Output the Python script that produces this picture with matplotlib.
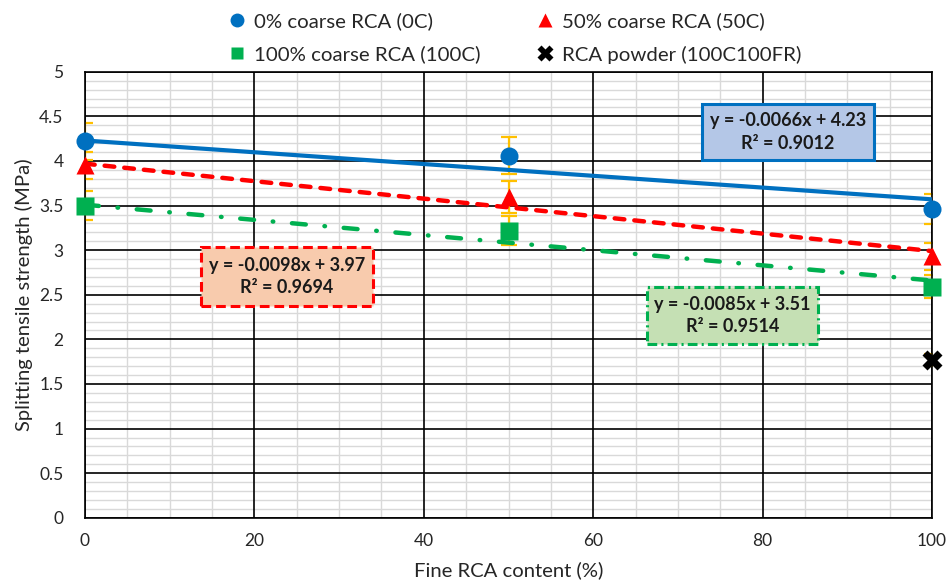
import numpy as np
import matplotlib
matplotlib.use("Agg")
import matplotlib.pyplot as plt
from matplotlib.lines import Line2D
from matplotlib.patches import Rectangle

plt.rcParams['font.family'] = ['Lato', 'DejaVu Sans']
plt.rcParams['lines.scale_dashes'] = False

# Fine RCA replacement levels (%)
fine_rca = [0, 50, 100]

# Splitting tensile strength (MPa) and error bar half-widths
strength_0c = [4.22, 4.06, 3.46]
err_0c = [0.21, 0.205, 0.17]
strength_50c = [3.95, 3.60, 2.93]
err_50c = [0.15, 0.18, 0.15]
strength_100c = [3.50, 3.22, 2.59]
err_100c = [0.16, 0.16, 0.13]
powder_x = [100]
powder_y = [1.77]
err_powder = [0.07]

# Linear trendlines
trend_slope = [-0.0066, -0.0098, -0.0085]
trend_intercept = [4.23, 3.97, 3.51]
trend_r2 = [0.9012, 0.9694, 0.9514]

series_labels = ["0% coarse RCA (0C)", "50% coarse RCA (50C)",
                 "100% coarse RCA (100C)", "RCA powder (100C100FR)"]

BLUE = "#0070C0"
RED = "#FF0000"
GREEN = "#00B050"
ERR = "#FFC000"
TXT = "#262626"

W, H = 949, 585
fig = plt.figure(figsize=(W/100, H/100), dpi=100)
renderer = fig.canvas.get_renderer()


def fit_size(text, width_px, weight='normal'):
    # font size (pt) at which `text` spans width_px pixels
    t = fig.text(0, 0, text, fontsize=10, fontweight=weight)
    w = t.get_window_extent(renderer).width
    t.remove()
    return 10 * width_px / w


fs_legend = fit_size(series_labels[0], 178)
fs_label = fit_size("Fine RCA content (%)", 190)
fs_box = fit_size("y = -0.0066x + 4.23", 157, 'bold')
fs_tick = 12.5

ax = fig.add_axes([85/W, 1-517.8/H, 847/W, (517.8-71.8)/H])

ax.set_xlim(0, 100)
ax.set_ylim(0, 5)
xmajor = np.arange(0, 101, 20)
ymajor = np.arange(0, 5.01, 0.5)
ax.set_xticks(xmajor)
ax.set_yticks(ymajor)
ax.set_yticklabels([f"{v:g}" for v in ymajor])
ax.set_xticks(np.arange(0, 101, 5), minor=True)
ax.set_yticks(np.arange(0, 5.01, 0.1), minor=True)
ax.grid(which='minor', color='#D9D9D9', linewidth=1.0)
ax.grid(which='major', visible=False)
ax.set_axisbelow(True)
# major gridlines on top of the minor ones
for xv in xmajor:
    ax.axvline(xv, color='black', lw=1.2, zorder=1)
for yv in ymajor:
    ax.axhline(yv, color='black', lw=1.2, zorder=1)

ax.tick_params(which='both', length=0)
ax.tick_params(axis='y', pad=15.5, labelsize=fs_tick, labelcolor=TXT)
ax.tick_params(axis='x', pad=11, labelsize=fs_tick, labelcolor=TXT)
for s in ax.spines.values():
    s.set_color('black')
    s.set_linewidth(1.2)

# error bars (clipped at plot edges)
for ys, es in [(strength_0c, err_0c), (strength_50c, err_50c),
               (strength_100c, err_100c)]:
    ax.errorbar(fine_rca, ys, yerr=es, fmt='none', ecolor=ERR,
                elinewidth=1.6, capsize=6, capthick=1.6, zorder=2)
ax.errorbar(powder_x, powder_y, yerr=err_powder, fmt='none', ecolor=ERR,
            elinewidth=1.6, capsize=6, capthick=1.6, zorder=2)

# trendlines
xt = np.array([0.0, 100.0])
ax.plot(xt, trend_slope[0]*xt + trend_intercept[0], color=BLUE, lw=3.0,
        solid_capstyle='round', zorder=3)
ax.plot(xt, trend_slope[1]*xt + trend_intercept[1], color=RED, lw=3.2,
        dash_capstyle='round', dashes=(7.0, 7.2), zorder=3)
ax.plot(xt, trend_slope[2]*xt + trend_intercept[2], color=GREEN, lw=3.2,
        dash_capstyle='round', dashes=(10.0, 13.5, 0.4, 13.5), zorder=3)

# data markers
ax.plot(fine_rca, strength_0c, 'o', color=BLUE, ms=13, mec='none',
        clip_on=False, zorder=5)
ax.plot(fine_rca, strength_50c, '^', color=RED, ms=13, mec='none',
        clip_on=False, zorder=5)
ax.plot(fine_rca, strength_100c, 's', color=GREEN, ms=12.5, mec='none',
        clip_on=False, zorder=5)
ax.plot(powder_x, powder_y, 'X', color='black', ms=14, mec='none',
        clip_on=False, zorder=5)


def px_box(x0, y0, x1, y1, face, edge, ls, text):
    # equation box placed in figure pixels (top-left origin)
    r = Rectangle((x0/W, 1-y1/H), (x1-x0)/W, (y1-y0)/H,
                  transform=fig.transFigure, facecolor=face,
                  edgecolor=edge, linewidth=2.2, zorder=10)
    if ls is not None:
        r.set_linestyle((0, ls))
    fig.add_artist(r)
    fig.text((x0+x1)/2/W, 1-(y0+y1)/2/H, text, ha='center', va='center',
             fontsize=fs_box, fontweight='bold', color='#1a1a1a',
             linespacing=1.4, zorder=11)


def eq_text(i):
    return (f"y = {trend_slope[i]:.4f}x + {trend_intercept[i]:.2f}\n"
            f"R² = {trend_r2[i]:.4f}")


px_box(702, 104, 874, 160, '#B4C7E7', BLUE, None, eq_text(0))
px_box(201, 247, 373, 306, '#F8CBAD', RED, (7, 3.5), eq_text(1))
px_box(647, 287, 818, 344, '#C5E0B4', GREEN, (7, 3, 1.5, 3), eq_text(2))

ax.set_xlabel("Fine RCA content (%)", fontsize=fs_label, color=TXT)
ax.set_ylabel("Splitting tensile strength (MPa)", fontsize=fs_label,
              color=TXT)
ax.xaxis.label.set_va('center')
ax.yaxis.label.set_va('center')
ax.xaxis.set_label_coords(0.5, (517.8-570)/446)
ax.yaxis.set_label_coords((24-85)/847, 0.5)

handles = [
    Line2D([], [], marker='o', color=BLUE, ls='none', ms=10, mec='none'),
    Line2D([], [], marker='^', color=RED, ls='none', ms=10, mec='none'),
    Line2D([], [], marker='s', color=GREEN, ls='none', ms=9, mec='none'),
    Line2D([], [], marker='X', color='black', ls='none', ms=11.5, mec='none'),
]
fs_px = fs_legend * 100 / 72
hl = 0.8
htp = max(17/fs_px - hl/2, 0.05)
order = [0, 2, 1, 3]
fig.legend([handles[i] for i in order], [series_labels[i] for i in order],
           ncol=2, loc='center', bbox_to_anchor=(515/W, 1-38/H),
           frameon=False, fontsize=fs_legend, handlelength=hl,
           handletextpad=htp, columnspacing=56/fs_px, labelspacing=0.75,
           labelcolor=TXT, borderpad=0)

fig.savefig("out.png", dpi=100)
